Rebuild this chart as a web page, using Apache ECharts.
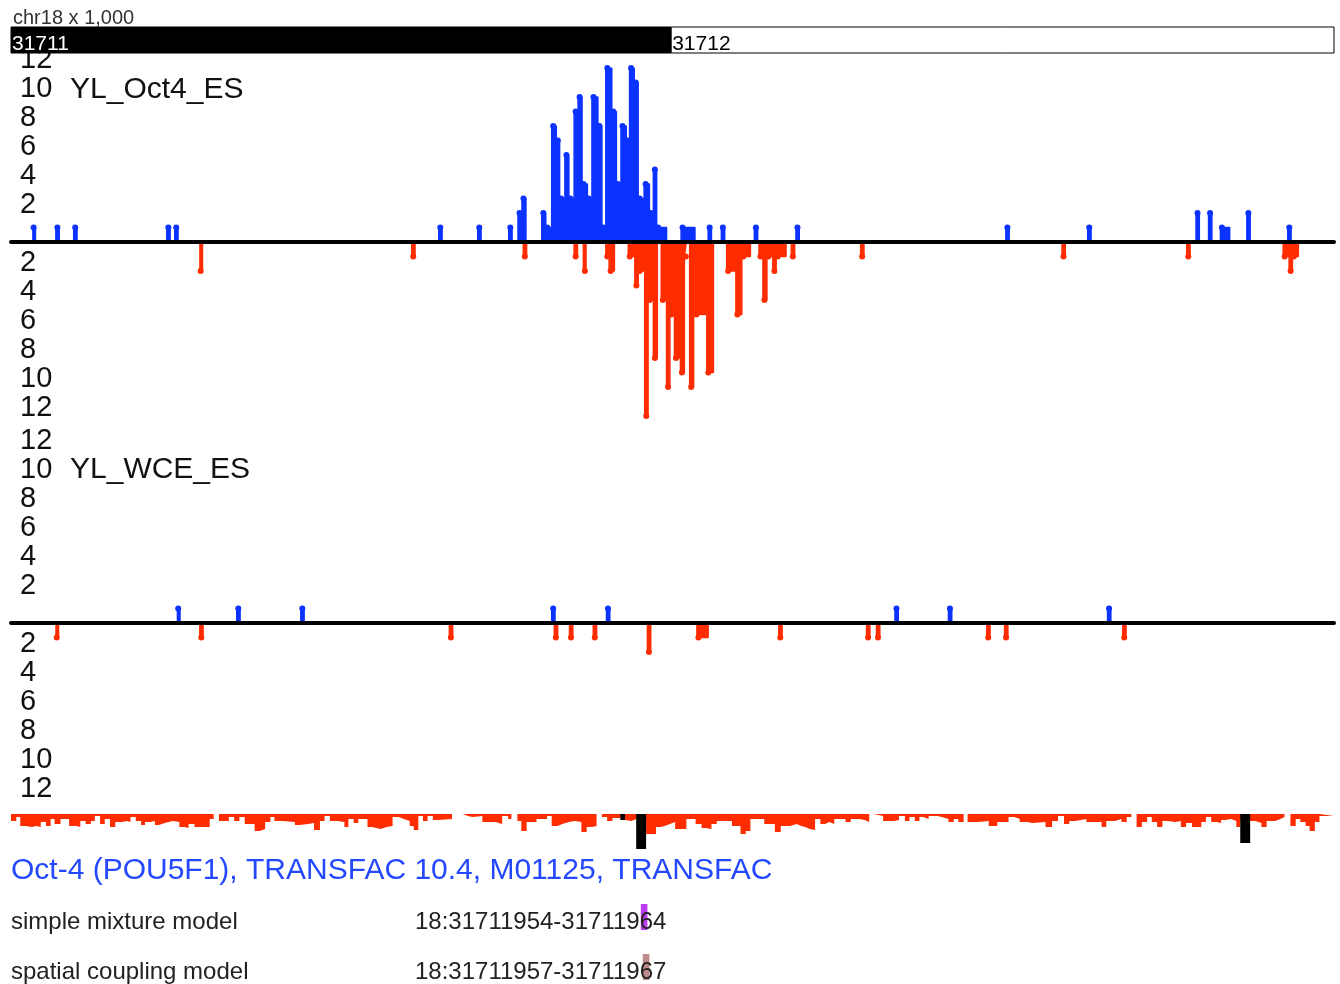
<!DOCTYPE html>
<html>
<head>
<meta charset="utf-8">
<title>chr18 Oct4 / WCE tracks</title>
<script src="https://cdn.jsdelivr.net/npm/echarts@6/dist/echarts.min.js"></script>
<style>
  html, body { margin: 0; padding: 0; background: #fff; }
  #main { width: 1340px; height: 984px; }
</style>
</head>
<body>
<div id="main"></div>
<script>
// positions are bp offsets from chr18:31,711,000 ; view is ~2 kb wide
var viewStart = 31711000;
var viewLen = 2004;
var rulerKb = [31711, 31712];

// [position, reads] steps, value applies until the next position
var oct4Plus = [
  [32, 1], [37, 0], [68, 1], [73, 0], [95, 1], [100, 0], [236, 1], [241, 0], [248, 1], [253, 0],
  [648, 1], [653, 0], [707, 1], [712, 0], [754, 1], [759, 0],
  [768, 2], [774, 3], [780, 0],
  [804, 2], [810, 1], [819, 8], [826, 7], [831, 3], [839, 6], [845, 3], [853, 9], [859, 10], [865, 4],
  [873, 3], [880, 10], [889, 8], [895, 1], [901, 12], [910, 9], [917, 4], [924, 8], [932, 7], [937, 12],
  [944, 11], [950, 3], [959, 4], [967, 2], [973, 5], [978, 1], [993, 0],
  [1015, 1], [1036, 0], [1056, 1], [1061, 0], [1076, 1], [1081, 0], [1126, 1], [1131, 0], [1189, 1], [1194, 0],
  [1507, 1], [1512, 0], [1631, 1], [1636, 0], [1795, 2], [1800, 0], [1814, 2], [1819, 0],
  [1832, 1], [1846, 0], [1872, 2], [1877, 0], [1934, 1], [1939, 0]
];
var oct4Minus = [
  [285, -2], [290, 0], [607, -1], [612, 0], [776, -1], [781, 0], [853, -1], [858, 0], [867, -2], [871, 0],
  [901, -1], [906, -2], [914, 0],
  [935, -1], [945, -3], [950, -2], [960, -12], [965, -4], [973, -8], [979, 0],
  [985, -4], [993, -10], [998, -5], [1005, -8], [1014, -9], [1020, -1], [1023, 0],
  [1028, -10], [1034, -1], [1036, -5], [1054, -9], [1064, 0],
  [1084, -2], [1098, -5], [1107, -1], [1120, 0],
  [1133, -1], [1139, -4], [1145, -1], [1154, -2], [1159, -1], [1174, 0],
  [1182, -1], [1187, 0], [1287, -1], [1292, 0], [1592, -1], [1597, 0], [1781, -1], [1786, 0],
  [1927, -1], [1936, -2], [1941, -1], [1950, 0]
];
var wcePlus = [
  [251, 1], [256, 0], [342, 1], [347, 0], [439, 1], [444, 0], [819, 1], [824, 0], [902, 1], [907, 0],
  [1339, 1], [1344, 0], [1420, 1], [1425, 0], [1661, 1], [1666, 0]
];
var wceMinus = [
  [67, -1], [72, 0], [286, -1], [291, 0], [664, -1], [669, 0], [823, -1], [828, 0], [846, -1], [851, 0],
  [882, -1], [887, 0], [964, -2], [969, 0], [1039, -1], [1056, 0], [1163, -1], [1168, 0],
  [1296, -1], [1301, 0], [1311, -1], [1316, 0], [1478, -1], [1483, 0], [1505, -1], [1510, 0],
  [1684, -1], [1689, 0]
];

// conservation score (drawn hanging down), 0 = gap
var conservation = [
  [0, 7], [8, 3], [14, 12], [22, 13], [32, 12], [38, 13], [45, 8], [53, 12], [60, 5], [66, 10], [75, 5],
  [88, 12], [99, 13], [105, 7], [113, 10], [121, 7], [127, 2], [135, 10], [142, 5], [150, 13], [158, 8],
  [168, 7], [176, 8], [181, 3], [189, 7], [197, 11], [203, 8], [211, 7], [218, 11], [224, 9], [233, 7],
  [245, 8], [255, 13], [263, 14], [269, 10], [278, 13], [301, 5], [307, 0],
  [315, 7], [330, 3], [338, 7], [346, 3], [354, 10], [369, 17], [377, 15], [385, 8], [393, 3], [399, 7],
  [411, 8], [430, 11], [437, 10], [450, 9], [459, 16], [468, 7], [475, 2], [483, 7], [495, 8], [505, 13],
  [511, 5], [519, 9], [526, 5], [540, 13], [547, 15], [560, 13], [569, 12], [578, 3], [587, 5], [595, 7],
  [604, 12], [610, 16], [617, 2], [624, 7], [631, 2], [639, 6], [647, 5], [668, 0],
  [684, 2], [692, 3], [699, 2], [714, 8], [734, 10], [744, 2], [753, 5], [758, 0],
  [767, 7], [773, 17], [781, 8], [796, 5], [812, 2], [819, 12], [828, 10], [835, 8], [845, 7], [854, 8],
  [864, 18], [872, 13], [880, 12], [887, 0],
  [895, 3], [903, 7], [911, 4], [923, 6], [930, 7], [940, 5], [947, 6], [962, 20], [977, 13], [984, 12],
  [990, 10], [998, 8], [1006, 15], [1023, 5], [1037, 10], [1046, 14], [1052, 15], [1061, 10], [1069, 7],
  [1092, 12], [1105, 20], [1113, 17], [1120, 5], [1141, 10], [1157, 18], [1166, 12], [1180, 10], [1190, 12],
  [1197, 13], [1203, 15], [1210, 16], [1218, 5], [1226, 10], [1233, 8], [1240, 10], [1247, 5], [1264, 8],
  [1272, 5], [1285, 6], [1293, 8], [1300, 0],
  [1307, 2], [1321, 7], [1338, 6], [1345, 2], [1354, 7], [1361, 3], [1369, 7], [1376, 3], [1382, 5],
  [1390, 2], [1403, 3], [1410, 5], [1420, 8], [1428, 5], [1435, 8], [1443, 0],
  [1449, 8], [1465, 7], [1481, 12], [1494, 8], [1511, 3], [1520, 5], [1528, 8], [1540, 9], [1547, 8],
  [1567, 13], [1577, 7], [1586, 2], [1595, 10], [1603, 7], [1612, 5], [1629, 8], [1646, 8], [1652, 13],
  [1659, 7], [1672, 5], [1682, 8], [1690, 3], [1697, 0],
  [1705, 13], [1713, 8], [1721, 3], [1728, 8], [1736, 13], [1744, 7], [1752, 8], [1764, 7], [1772, 13],
  [1780, 9], [1789, 13], [1803, 8], [1810, 3], [1818, 8], [1826, 9], [1833, 6], [1839, 5], [1848, 7],
  [1856, 13], [1862, 7], [1877, 7], [1885, 9], [1894, 13], [1902, 7], [1915, 5], [1923, 3], [1929, 0],
  [1938, 12], [1946, 5], [1953, 8], [1961, 12], [1967, 17], [1975, 8], [1982, 2], [2004, 0]
];
// motif hits shown in black in the conservation row
var motifCons = [[923, 6], [930, 0], [947, 35], [962, 0], [1862, 29], [1877, 0]];

var motifModels = ['simple mixture model', 'spatial coupling model'];
var motifStarts = [31711954, 31711957];
var motifEnds = [31711964, 31711967];
var motifChrom = '18';

var FONT = '"Liberation Sans", Arial, Helvetica, sans-serif';
var BLUE = '#0c32ff';
var RED = '#ff2c00';
var motifColors = ['#b93cf0', '#c08a8a'];

var chart = echarts.init(document.getElementById('main'));

function trackSeries(data, color, idx) {
  return {
    type: 'line',
    xAxisIndex: idx,
    yAxisIndex: idx,
    data: data,
    step: 'end',
    symbol: 'circle',
    symbolSize: function (v) { return v[1] === 0 ? 0 : 6; },
    symbolOffset: [1.5, 0],
    showAllSymbol: true,
    lineStyle: { color: color, width: 1.5 },
    itemStyle: { color: color },
    areaStyle: { color: color, opacity: 1 },
    silent: true,
    z: 2
  };
}

function trackYAxis(idx) {
  return {
    gridIndex: idx, type: 'value', min: -12, max: 12, interval: 2,
    axisLine: { show: false }, axisTick: { show: false }, splitLine: { show: false },
    axisLabel: {
      inside: true, margin: 9, color: '#111', fontSize: 29, fontFamily: FONT,
      verticalAlign: 'bottom', lineHeight: 16,
      formatter: function (v) { return v === 0 ? '' : String(Math.abs(v)); }
    }
  };
}

function trackXAxis(idx) {
  return {
    gridIndex: idx, type: 'value', min: 0, max: viewLen, z: 5,
    axisLine: { onZero: true, lineStyle: { color: '#000', width: 4 } },
    axisTick: { show: false }, axisLabel: { show: false }, splitLine: { show: false }
  };
}

var rulerData = rulerKb.map(function (kb, i) {
  var s = (kb * 1000) - viewStart;
  var e = i + 1 < rulerKb.length ? rulerKb[i + 1] * 1000 - viewStart : viewLen;
  return [s, e, kb];
});

var motifData = motifStarts.map(function (s, i) {
  return [s - viewStart, motifEnds[i] - viewStart, i, s, motifEnds[i]];
});

var option = {
  animation: false,
  backgroundColor: '#fff',
  title: [
    { text: 'chr18 x 1,000', left: 13, top: 8, padding: 0,
      textStyle: { fontSize: 20, fontWeight: 'normal', color: '#333', fontFamily: FONT } },
    { text: 'YL_Oct4_ES', left: 70, top: 75, padding: 0,
      textStyle: { fontSize: 30, fontWeight: 'normal', color: '#111', fontFamily: FONT } },
    { text: 'YL_WCE_ES', left: 70, top: 455, padding: 0,
      textStyle: { fontSize: 30, fontWeight: 'normal', color: '#111', fontFamily: FONT } },
    { text: 'Oct-4 (POU5F1), TRANSFAC 10.4, M01125, TRANSFAC', left: 11, top: 856, padding: 0,
      textStyle: { fontSize: 30, fontWeight: 'normal', color: '#2448ff', fontFamily: FONT } }
  ],
  grid: [
    { left: 11, width: 1323, top: 68, height: 348 },   // Oct4 track
    { left: 11, width: 1323, top: 449, height: 348 },  // WCE track
    { left: 11, width: 1323, top: 27, height: 26 },    // ruler
    { left: 11, width: 1323, top: 814, height: 40 },   // conservation
    { left: 11, width: 1323, top: 896, height: 88 }    // motif models (rows 50px apart)
  ],
  xAxis: [
    trackXAxis(0),
    trackXAxis(1),
    { gridIndex: 2, type: 'value', min: 0, max: viewLen, show: false },
    { gridIndex: 3, type: 'value', min: 0, max: viewLen, show: false },
    { gridIndex: 4, type: 'value', min: 0, max: viewLen, show: false }
  ],
  yAxis: [
    trackYAxis(0),
    trackYAxis(1),
    { gridIndex: 2, type: 'value', min: 0, max: 1, show: false },
    { gridIndex: 3, type: 'value', min: 0, max: 40, inverse: true, show: false },
    { gridIndex: 4, type: 'value', min: -0.58, max: 1.18, inverse: true, show: false }
  ],
  series: [
    trackSeries(oct4Plus, BLUE, 0),
    trackSeries(oct4Minus, RED, 0),
    trackSeries(wcePlus, BLUE, 1),
    trackSeries(wceMinus, RED, 1),
    {
      type: 'custom', xAxisIndex: 2, yAxisIndex: 2, data: rulerData, z: 10, silent: true,
      renderItem: function (params, api) {
        var a = api.coord([api.value(0), 1]);
        var b = api.coord([api.value(1), 0]);
        var dark = params.dataIndex === 0;
        return {
          type: 'group',
          children: [
            { type: 'rect', shape: { x: a[0], y: a[1], width: b[0] - a[0], height: b[1] - a[1] },
              style: { fill: dark ? '#000' : '#fff', stroke: '#000', lineWidth: 1 } },
            { type: 'text', x: a[0] + 1, y: b[1] + 2,
              style: { text: String(api.value(2)), fill: dark ? '#fff' : '#000',
                       font: '21px ' + FONT, align: 'left', verticalAlign: 'bottom' } }
          ]
        };
      }
    },
    {
      type: 'line', xAxisIndex: 3, yAxisIndex: 3, data: conservation, step: 'end',
      symbol: 'none', lineStyle: { width: 0 }, areaStyle: { color: RED, opacity: 1 }, silent: true, z: 2
    },
    {
      type: 'line', xAxisIndex: 3, yAxisIndex: 3, data: motifCons, step: 'end',
      symbol: 'none', lineStyle: { width: 0 }, areaStyle: { color: '#000', opacity: 1 }, silent: true, z: 3
    },
    {
      type: 'custom', xAxisIndex: 4, yAxisIndex: 4, data: motifData, silent: true, clip: false,
      renderItem: function (params, api) {
        var row = api.value(2);
        var a = api.coord([api.value(0), row]);
        var b = api.coord([api.value(1), row]);
        var left = api.coord([0, row]);
        var band = api.size([0, 1])[1];
        return {
          type: 'group',
          children: [
            { type: 'rect', shape: { x: a[0], y: a[1] - band * 0.42, width: b[0] - a[0], height: band * 0.52 },
              style: { fill: motifColors[params.dataIndex] } },
            { type: 'text', x: left[0], y: a[1] - 3,
              style: { text: motifModels[row], fill: '#222',
                       font: '24px ' + FONT, align: 'left', verticalAlign: 'middle' } },
            { type: 'text', x: 415, y: a[1] - 3,
              style: { text: motifChrom + ':' + api.value(3) + '-' + api.value(4), fill: '#222',
                       font: '24px ' + FONT, align: 'left', verticalAlign: 'middle' } }
          ]
        };
      }
    }
  ]
};

chart.setOption(option);
</script>
</body>
</html>
